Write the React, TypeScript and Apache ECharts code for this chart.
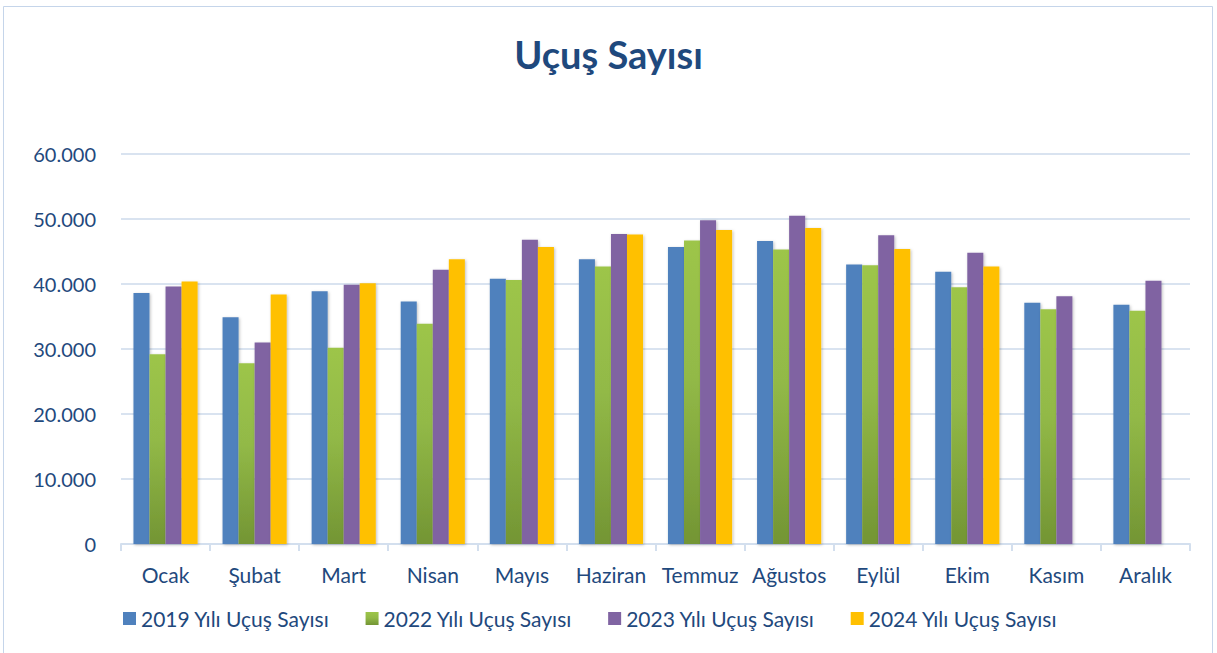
import React, { useEffect, useRef } from "react";
import * as echarts from "echarts";

const months = ["Ocak", "Şubat", "Mart", "Nisan", "Mayıs", "Haziran", "Temmuz", "Ağustos", "Eylül", "Ekim", "Kasım", "Aralık"];
const seriesNames = ["2019 Yılı Uçuş Sayısı", "2022 Yılı Uçuş Sayısı", "2023 Yılı Uçuş Sayısı", "2024 Yılı Uçuş Sayısı"];
const data2019 = [38600, 34900, 38900, 37300, 40800, 43800, 45700, 46600, 43000, 41900, 37100, 36800];
const data2022 = [29200, 27800, 30200, 33900, 40600, 42700, 46700, 45300, 42900, 39500, 36100, 35900];
const data2023 = [39600, 31000, 39900, 42200, 46800, 47700, 49800, 50500, 47500, 44800, 38100, 40500];
const data2024 = [40400, 38400, 40100, 43800, 45700, 47600, 48300, 48600, 45400, 42700, null, null];
const yTicks = [0, 10000, 20000, 30000, 40000, 50000, 60000];

const textColor = "#1F497D";
const fontFamily = "Lato, 'Open Sans', sans-serif";

export default function App() {
  const ref = useRef<HTMLDivElement>(null);
  useEffect(() => {
    if (!ref.current) return;
    const chart = echarts.init(ref.current, undefined, { renderer: "svg" });
    const green = new echarts.graphic.LinearGradient(0, 0, 0, 1, [
      { offset: 0, color: "#9DC54A" },
      { offset: 0.45, color: "#92B947" },
      { offset: 1, color: "#739534" },
    ]);
    const colors: any[] = ["#4F81BD", green, "#8064A2", "#FFC000"];
    const all = [data2019, data2022, data2023, data2024];
    chart.setOption({
      animation: false,
      backgroundColor: "#FFFFFF",
      title: {
        text: "Uçuş Sayısı",
        left: "center",
        top: 30,
        textStyle: { color: textColor, fontSize: 38, fontWeight: "bold", fontFamily },
      },
      graphic: [
        {
          type: "rect",
          shape: { x: 3.5, y: 6.5, width: 1209, height: 660 },
          style: { fill: "none", stroke: "#C5D5EA", lineWidth: 1 },
          silent: true,
        },
      ],
      legend: {
        left: 123,
        top: 608,
        padding: 0,
        itemWidth: 13,
        itemHeight: 13,
        itemGap: 36,
        icon: "rect",
        textStyle: { color: textColor, fontSize: 21, fontFamily },
        data: seriesNames.map((n, i) => ({ name: n, itemStyle: { color: colors[i] } })),
      },
      grid: { left: 121, right: 27, top: 154, bottom: 109, containLabel: false },
      xAxis: {
        type: "category",
        data: months,
        axisLine: { lineStyle: { color: "#D3DFEE", width: 2 } },
        axisTick: { show: true, interval: 0, length: 7, lineStyle: { color: "#D3DFEE", width: 2 } },
        axisLabel: { color: textColor, fontSize: 21, fontFamily, margin: 20, interval: 0 },
      },
      yAxis: {
        type: "value",
        min: yTicks[0],
        max: yTicks[yTicks.length - 1],
        interval: 10000,
        axisLine: { show: false },
        axisTick: { show: false },
        splitLine: { lineStyle: { color: "#D9E3F0", width: 2 } },
        axisLabel: {
          color: textColor,
          fontSize: 20,
          fontFamily,
          margin: 25,
          formatter: (v: number) => (v === 0 ? "0" : v.toLocaleString("de-DE")),
        },
      },
      series: all.map((d, i) => ({
        name: seriesNames[i],
        type: "bar",
        data: d,
        barGap: "0%",
        barCategoryGap: "28%",
        itemStyle: {
          color: colors[i],
          shadowBlur: 3,
          shadowColor: "rgba(0,0,0,0.25)",
          shadowOffsetX: 1,
          shadowOffsetY: 1,
        },
      })),
    });
    return () => chart.dispose();
  }, []);
  return <div ref={ref} style={{ position: "fixed", left: 0, top: 0, width: 1217, height: 653 }} />;
}
